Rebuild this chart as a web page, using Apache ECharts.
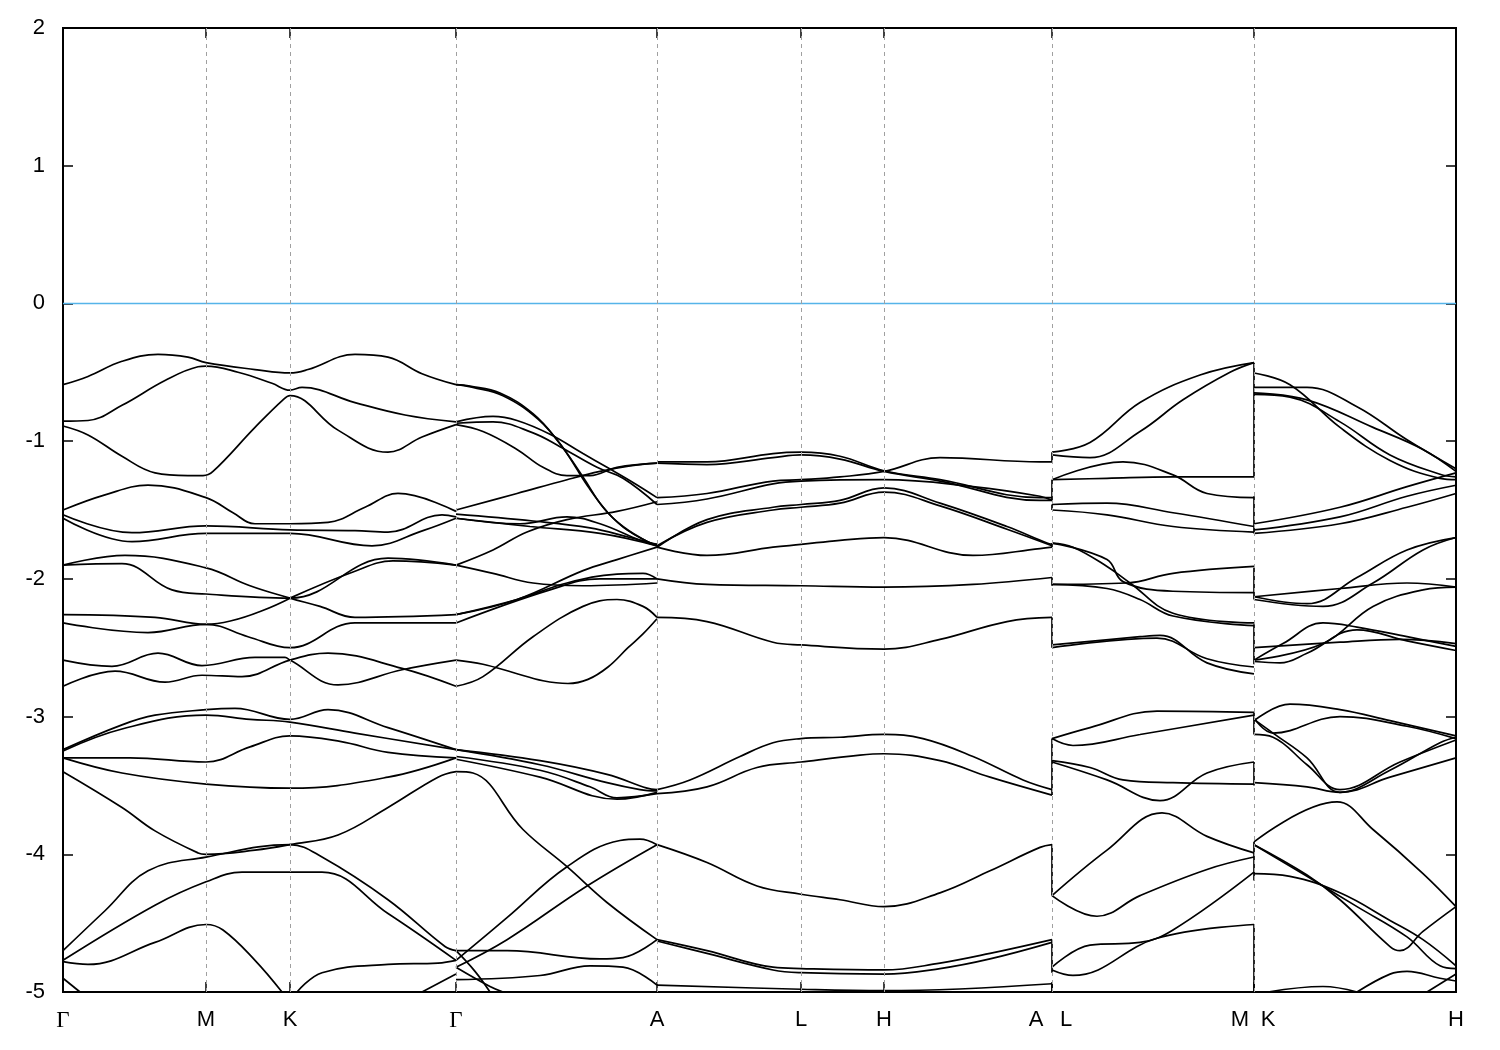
<!DOCTYPE html>
<html><head><meta charset="utf-8">
<script src="https://cdn.jsdelivr.net/npm/echarts@6/dist/echarts.min.js"></script>
<style>html,body{margin:0;padding:0;background:#fff}#c{width:1500px;height:1050px}</style>
</head><body><div id="c"></div>
<script>
// k-path positions of high-symmetry points (arbitrary path units)
const kTicks = [0, 143, 227, 393, 594, 738, 821, 989, 1191, 1393];
const kGridLines = [143, 227, 393, 594, 738, 821, 989, 1191];
const kLabelPos = [0, 143, 227, 393, 594, 738, 821, 973, 1003, 1177, 1205, 1393];
const kLabelNames = ['Γ', 'M', 'K', 'Γ', 'A', 'L', 'H', 'A', 'L', 'M', 'K', 'H'];
const energyMin = -5, energyMax = 2, energyStep = 1;
const fermiLevel = 0;

// Γ - M - K - Γ
const bandsGMKG = [
  [[0,-0.59],[25,-0.53],[59,-0.42],[95,-0.37],[125,-0.39],[143,-0.43],[192,-0.48],[227,-0.505],[245,-0.48],[292,-0.37],[325,-0.39],[359,-0.51],[393,-0.59]],
  [[0,-0.855],[25,-0.85],[59,-0.74],[102,-0.56],[135,-0.46],[143,-0.455],[175,-0.50],[209,-0.58],[227,-0.63],[239,-0.61],[292,-0.72],[342,-0.81],[393,-0.86]],
  [[0,-0.89],[25,-0.955],[59,-1.11],[92,-1.23],[125,-1.25],[140,-1.25],[150,-1.22],[192,-0.90],[220,-0.70],[227,-0.67],[275,-0.92],[325,-1.08],[359,-0.97],[393,-0.88]],
  [[0,-1.50],[42,-1.39],[85,-1.32],[143,-1.41],[170,-1.52],[192,-1.60],[227,-1.60],[265,-1.59],[302,-1.48],[335,-1.38],[393,-1.51]],
  [[0,-1.535],[69,-1.665],[143,-1.616],[227,-1.645],[292,-1.65],[325,-1.66],[379,-1.535],[393,-1.55]],
  [[0,-1.56],[69,-1.73],[143,-1.67],[227,-1.67],[309,-1.76],[360,-1.65],[393,-1.56]],
  [[0,-1.90],[62,-1.83],[143,-1.92],[187,-2.05],[227,-2.14],[257,-2.20],[292,-2.28],[393,-2.26]],
  [[0,-1.90],[59,-1.89],[109,-2.08],[143,-2.11],[227,-2.14],[325,-1.85],[393,-1.90]],
  [[227,-2.14],[290,-1.95],[330,-1.87],[393,-1.90]],
  [[0,-2.26],[92,-2.28],[143,-2.33],[227,-2.14]],
  [[0,-2.32],[85,-2.39],[143,-2.33],[185,-2.42],[227,-2.50],[292,-2.32],[393,-2.32]],
  [[0,-2.59],[49,-2.635],[95,-2.54],[139,-2.63],[192,-2.57],[222,-2.57],[227,-2.59],[275,-2.77],[339,-2.66],[393,-2.59]],
  [[0,-2.78],[52,-2.67],[102,-2.75],[139,-2.70],[179,-2.71],[227,-2.59],[265,-2.54],[339,-2.65],[393,-2.78]],
  [[0,-3.24],[59,-3.06],[92,-2.99],[143,-2.95],[172,-2.94],[227,-3.02],[265,-2.95],[325,-3.08],[393,-3.24]],
  [[0,-3.25],[59,-3.09],[143,-2.99],[187,-3.02],[227,-3.04],[292,-3.12],[393,-3.24]],
  [[0,-3.30],[67,-3.30],[143,-3.33],[187,-3.22],[227,-3.14],[277,-3.18],[325,-3.26],[393,-3.30]],
  [[0,-3.30],[59,-3.41],[143,-3.49],[227,-3.52],[325,-3.44],[393,-3.30]],
  [[0,-3.40],[59,-3.66],[92,-3.83],[135,-3.99],[143,-4.00],[192,-3.97],[227,-3.93],[275,-3.86],[325,-3.66],[375,-3.44],[393,-3.40]],
  [[0,-4.70],[42,-4.41],[85,-4.12],[143,-4.02],[227,-3.93],[259,-4.02],[325,-4.33],[382,-4.67],[393,-4.70]],
  [[0,-4.77],[92,-4.37],[143,-4.20],[179,-4.13],[259,-4.13],[325,-4.43],[393,-4.77]],
  [[0,-4.78],[25,-4.80],[92,-4.64],[143,-4.51],[160,-4.55],[192,-4.77],[219,-5.0]],
  [[234,-5.0],[259,-4.86],[325,-4.80],[375,-4.79],[393,-4.77]],
  [[0,-4.90],[17,-5.0]],
  [[359,-5.0],[393,-4.87]]
];

// Γ - A
const bandsGA = [
  [[393,-0.59],[407,-0.60],[437,-0.65],[470,-0.80],[494,-0.99],[520,-1.26],[540,-1.48],[560,-1.62],[587,-1.74],[594,-1.75]],
  [[393,-0.59],[410,-0.61],[440,-0.67],[475,-0.84],[500,-1.05],[525,-1.33],[545,-1.52],[565,-1.65],[594,-1.76]],
  [[393,-0.86],[430,-0.82],[454,-0.85],[487,-0.95],[520,-1.09],[544,-1.19],[570,-1.30],[594,-1.41]],
  [[393,-0.87],[430,-0.86],[470,-0.94],[497,-1.04],[534,-1.19],[560,-1.27],[594,-1.46]],
  [[393,-0.88],[420,-0.93],[454,-1.06],[480,-1.19],[504,-1.25],[527,-1.25],[554,-1.19],[594,-1.16]],
  [[393,-1.50],[454,-1.38],[504,-1.28],[537,-1.22],[567,-1.18],[594,-1.16]],
  [[393,-1.90],[430,-1.79],[464,-1.66],[504,-1.57],[554,-1.51],[594,-1.44]],
  [[393,-1.53],[470,-1.58],[527,-1.63],[567,-1.70],[594,-1.75]],
  [[393,-1.56],[467,-1.62],[537,-1.67],[594,-1.76]],
  [[393,-1.56],[457,-1.60],[504,-1.55],[537,-1.60],[577,-1.72],[594,-1.76]],
  [[393,-2.26],[454,-2.15],[520,-1.94],[554,-1.86],[594,-1.77]],
  [[393,-2.26],[454,-2.15],[504,-2.03],[554,-1.965],[580,-1.96],[594,-2.0]],
  [[393,-2.32],[487,-2.08],[537,-2.0],[594,-2.0]],
  [[393,-1.90],[430,-1.96],[470,-2.03],[520,-2.05],[594,-2.03]],
  [[393,-2.59],[420,-2.62],[450,-2.68],[480,-2.74],[505,-2.76],[525,-2.73],[545,-2.64],[565,-2.50],[580,-2.40],[594,-2.29]],
  [[393,-2.78],[420,-2.71],[470,-2.42],[520,-2.20],[554,-2.15],[580,-2.20],[594,-2.28]],
  [[393,-3.24],[477,-3.32],[544,-3.42],[584,-3.52],[594,-3.53]],
  [[393,-3.24],[477,-3.35],[544,-3.48],[577,-3.53],[594,-3.54]],
  [[393,-3.29],[477,-3.39],[527,-3.51],[554,-3.59],[594,-3.56]],
  [[393,-3.31],[477,-3.44],[554,-3.60],[594,-3.55]],
  [[393,-3.40],[410,-3.41],[460,-3.82],[504,-4.09],[544,-4.35],[594,-4.62]],
  [[393,-4.70],[444,-4.70],[537,-4.76],[560,-4.75],[594,-4.62]],
  [[393,-4.77],[444,-4.46],[504,-4.09],[557,-3.90],[577,-3.89],[594,-3.93]],
  [[393,-4.82],[444,-4.62],[524,-4.23],[594,-3.93]],
  [[393,-4.91],[477,-4.88],[527,-4.81],[560,-4.82],[594,-4.95]],
  [[393,-4.70],[412,-4.85],[427,-5.0]],
  [[393,-4.82],[427,-4.96],[440,-5.0]]
];

// A - L - H - A
const bandsALHA = [
  [[594,-1.15],[644,-1.15],[710,-1.09],[738,-1.08],[777,-1.11],[821,-1.215],[877,-1.28],[977,-1.41],[989,-1.41]],
  [[594,-1.16],[644,-1.17],[710,-1.12],[738,-1.10],[777,-1.13],[821,-1.22],[877,-1.29],[977,-1.43],[989,-1.43]],
  [[594,-1.41],[644,-1.38],[710,-1.29],[738,-1.28],[777,-1.26],[821,-1.22],[877,-1.12],[977,-1.15],[989,-1.15]],
  [[594,-1.46],[644,-1.42],[710,-1.31],[738,-1.29],[821,-1.28],[910,-1.33],[977,-1.40],[989,-1.43]],
  [[594,-1.77],[644,-1.57],[710,-1.48],[738,-1.46],[777,-1.43],[821,-1.34],[877,-1.45],[944,-1.62],[984,-1.74],[989,-1.75]],
  [[594,-1.76],[644,-1.59],[710,-1.50],[738,-1.48],[777,-1.45],[821,-1.37],[877,-1.47],[944,-1.64],[989,-1.76]],
  [[594,-1.77],[644,-1.83],[710,-1.77],[738,-1.75],[777,-1.72],[821,-1.70],[910,-1.83],[977,-1.78],[989,-1.77]],
  [[594,-2.0],[644,-2.04],[738,-2.05],[821,-2.06],[910,-2.04],[989,-1.99]],
  [[594,-2.28],[644,-2.31],[710,-2.46],[738,-2.48],[821,-2.51],[877,-2.44],[944,-2.31],[989,-2.28]],
  [[594,-3.53],[627,-3.46],[677,-3.29],[710,-3.19],[738,-3.16],[777,-3.15],[821,-3.13],[860,-3.16],[910,-3.29],[960,-3.46],[989,-3.53]],
  [[594,-3.56],[644,-3.51],[694,-3.37],[738,-3.33],[797,-3.28],[821,-3.27],[877,-3.32],[927,-3.44],[989,-3.57]],
  [[594,-3.93],[644,-4.06],[694,-4.23],[738,-4.29],[777,-4.33],[821,-4.38],[877,-4.28],[927,-4.12],[977,-3.95],[989,-3.93]],
  [[594,-4.62],[644,-4.70],[710,-4.82],[738,-4.83],[821,-4.84],[877,-4.79],[927,-4.72],[989,-4.62]],
  [[594,-4.63],[644,-4.72],[710,-4.84],[738,-4.86],[821,-4.87],[877,-4.83],[927,-4.76],[989,-4.64]],
  [[594,-4.95],[738,-4.98],[821,-4.99],[989,-4.94]]
];

// L - M
const bandsLM = [
  [[989,-1.08],[1027,-1.01],[1077,-0.72],[1137,-0.52],[1191,-0.43]],
  [[989,-1.10],[1027,-1.12],[1077,-0.93],[1120,-0.70],[1167,-0.50],[1191,-0.43]],
  [[989,-1.28],[1060,-1.15],[1110,-1.245],[1144,-1.38],[1191,-1.41]],
  [[989,-1.28],[1044,-1.27],[1110,-1.26],[1191,-1.26]],
  [[989,-1.46],[1044,-1.45],[1110,-1.52],[1191,-1.62]],
  [[989,-1.50],[1044,-1.535],[1110,-1.62],[1191,-1.66]],
  [[989,-1.74],[1010,-1.77],[1044,-1.91],[1067,-2.03],[1110,-2.25],[1191,-2.32]],
  [[989,-1.74],[1044,-1.86],[1060,-2.02],[1110,-2.09],[1191,-2.10]],
  [[989,-2.04],[1064,-2.03],[1110,-1.96],[1191,-1.91]],
  [[989,-2.04],[1044,-2.07],[1077,-2.15],[1110,-2.27],[1191,-2.34]],
  [[989,-2.48],[1077,-2.42],[1097,-2.41],[1144,-2.61],[1191,-2.69]],
  [[989,-2.50],[1094,-2.43],[1144,-2.58],[1191,-2.64]],
  [[989,-3.16],[1027,-3.08],[1094,-2.96],[1191,-2.97]],
  [[989,-3.16],[1010,-3.21],[1077,-3.13],[1191,-2.99]],
  [[989,-3.32],[1027,-3.37],[1060,-3.46],[1110,-3.48],[1191,-3.49]],
  [[989,-3.33],[1044,-3.46],[1097,-3.61],[1144,-3.41],[1191,-3.33]],
  [[989,-4.30],[1044,-3.97],[1099,-3.70],[1144,-3.87],[1191,-3.99]],
  [[989,-4.30],[1034,-4.45],[1077,-4.30],[1144,-4.11],[1191,-4.02]],
  [[989,-4.82],[1027,-4.66],[1077,-4.64],[1110,-4.55],[1191,-4.13]],
  [[989,-4.84],[1010,-4.88],[1094,-4.61],[1191,-4.51]]
];

// K - H
const bandsKH = [
  [[1191,-0.505],[1227,-0.59],[1277,-0.90],[1327,-1.14],[1377,-1.27],[1393,-1.28]],
  [[1191,-0.61],[1244,-0.61],[1294,-0.75],[1344,-0.99],[1393,-1.20]],
  [[1191,-0.65],[1244,-0.70],[1310,-0.90],[1360,-1.06],[1393,-1.22]],
  [[1191,-0.66],[1227,-0.68],[1277,-0.86],[1327,-1.10],[1377,-1.24],[1393,-1.26]],
  [[1191,-1.60],[1277,-1.48],[1344,-1.33],[1393,-1.23]],
  [[1191,-1.645],[1277,-1.55],[1344,-1.40],[1393,-1.32]],
  [[1191,-1.67],[1277,-1.60],[1344,-1.48],[1393,-1.38]],
  [[1191,-2.13],[1244,-2.18],[1294,-1.99],[1344,-1.79],[1393,-1.70]],
  [[1191,-2.15],[1260,-2.20],[1310,-2.03],[1360,-1.79],[1393,-1.70]],
  [[1191,-2.13],[1277,-2.07],[1344,-2.03],[1393,-2.06]],
  [[1191,-2.59],[1260,-2.47],[1310,-2.20],[1360,-2.08],[1393,-2.06]],
  [[1191,-2.59],[1220,-2.47],[1260,-2.32],[1294,-2.35],[1344,-2.42],[1393,-2.49]],
  [[1191,-2.60],[1217,-2.61],[1244,-2.54],[1294,-2.37],[1344,-2.45],[1393,-2.52]],
  [[1191,-2.50],[1277,-2.46],[1337,-2.44],[1393,-2.47]],
  [[1191,-3.03],[1227,-2.91],[1277,-2.95],[1327,-3.03],[1393,-3.14]],
  [[1191,-3.01],[1210,-3.12],[1277,-3.00],[1344,-3.07],[1393,-3.16]],
  [[1191,-3.02],[1210,-3.12],[1244,-3.30],[1277,-3.55],[1327,-3.39],[1377,-3.19],[1393,-3.15]],
  [[1191,-3.13],[1210,-3.15],[1244,-3.35],[1277,-3.53],[1337,-3.33],[1393,-3.17]],
  [[1191,-3.48],[1244,-3.51],[1277,-3.55],[1327,-3.44],[1393,-3.30]],
  [[1191,-3.91],[1274,-3.62],[1310,-3.82],[1360,-4.14],[1393,-4.38]],
  [[1191,-3.93],[1244,-4.16],[1294,-4.38],[1344,-4.60],[1377,-4.81],[1393,-4.83]],
  [[1191,-3.93],[1244,-4.15],[1277,-4.33],[1327,-4.67],[1337,-4.70],[1360,-4.56],[1393,-4.38]],
  [[1191,-4.14],[1227,-4.16],[1277,-4.28],[1327,-4.48],[1360,-4.62],[1393,-4.81]],
  [[1205,-5.0],[1260,-4.96],[1294,-5.0]],
  [[1294,-5.0],[1327,-4.87],[1344,-4.85],[1377,-4.90],[1393,-4.92]],
  [[1364,-5.0],[1393,-4.87]]
];

// discontinuities of the path (A|L and M|K): energy before / after
const jumpAL = [[-1.08,-1.15],[-1.28,-1.43],[-1.46,-1.50],[-1.74,-1.77],[-1.99,-2.05],[-2.28,-2.50],[-3.16,-3.57],[-3.93,-4.30],[-4.62,-4.86],[-4.94,-5.0]];
const jumpMK = [[-0.43,-1.26],[-1.40,-1.67],[-1.92,-2.15],[-2.33,-2.62],[-2.97,-3.13],[-3.33,-3.50],[-3.91,-4.19],[-4.51,-5.0]];

const FONT = 'Liberation Sans, Arial, Helvetica, sans-serif';
const series = [];
const bandStyle = { color: '#000', width: 1.7 };
function addBand(pts) {
  series.push({ type: 'line', data: pts, smooth: 0.4, symbol: 'none', showSymbol: false,
    lineStyle: bandStyle, silent: true, z: 3, clip: true });
}
[bandsGMKG, bandsGA, bandsALHA, bandsLM, bandsKH].forEach(g => g.forEach(addBand));
function addJump(k, pair) {
  series.push({ type: 'line', data: [[k, pair[0]], [k, pair[1]]], smooth: false, symbol: 'none', showSymbol: false,
    lineStyle: bandStyle, silent: true, z: 3 });
}
jumpAL.forEach(p => addJump(kTicks[7], p));
jumpMK.forEach(p => addJump(kTicks[8], p));
// Fermi level + dashed high-symmetry lines
series.push({ type: 'line', data: [[kTicks[0], fermiLevel], [kTicks[kTicks.length - 1], fermiLevel]],
  symbol: 'none', lineStyle: { color: '#56B4E9', width: 1.6 }, silent: true, z: 2,
  markLine: { silent: true, symbol: 'none', label: { show: false },
    lineStyle: { color: '#a0a0a0', type: [4, 4], width: 1 },
    data: kGridLines.map(k => ({ xAxis: k })) } });

const tickStyle = { color: '#000', width: 1.5 };
const chart = echarts.init(document.getElementById('c'), null, { renderer: 'canvas' });
chart.setOption({
  animation: false,
  backgroundColor: '#fff',
  grid: { left: 63, right: 44, top: 28, bottom: 58, show: true, borderColor: '#000', borderWidth: 2, backgroundColor: 'transparent' },
  xAxis: [
    { type: 'value', min: kTicks[0], max: kTicks[kTicks.length - 1], position: 'bottom',
      axisLine: { show: false, onZero: false }, splitLine: { show: false },
      axisTick: { show: true, inside: true, length: 10, customValues: kTicks, lineStyle: tickStyle },
      axisLabel: { show: true, customValues: kLabelPos, margin: 17, fontSize: 22, color: '#000', fontFamily: FONT,
        rich: { g: { fontFamily: 'Liberation Serif, DejaVu Serif, serif', fontSize: 23, color: '#000' } },
        formatter: v => { const i = kLabelPos.indexOf(v); if (i < 0) return ''; const n = kLabelNames[i]; return n === 'Γ' ? '{g|Γ}' : n; } } },
    { type: 'value', min: kTicks[0], max: kTicks[kTicks.length - 1], position: 'top',
      axisLine: { show: false, onZero: false }, splitLine: { show: false },
      axisTick: { show: true, inside: true, length: 10, customValues: kTicks, lineStyle: tickStyle },
      axisLabel: { show: false } }
  ],
  yAxis: [
    { type: 'value', min: energyMin, max: energyMax, interval: energyStep, position: 'left',
      axisLine: { show: false, onZero: false }, splitLine: { show: false },
      axisTick: { show: true, inside: true, length: 10, lineStyle: tickStyle },
      axisLabel: { margin: 18, fontSize: 22, color: '#000', fontFamily: FONT } },
    { type: 'value', min: energyMin, max: energyMax, interval: energyStep, position: 'right',
      axisLine: { show: false, onZero: false }, splitLine: { show: false },
      axisTick: { show: true, inside: true, length: 10, lineStyle: tickStyle },
      axisLabel: { show: false } }
  ],
  series: series
});
</script>
</body></html>
